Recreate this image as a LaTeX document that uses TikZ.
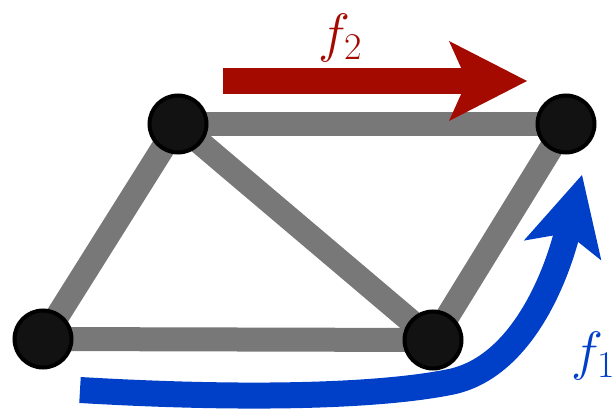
\RequirePackage{fix-cm}
\documentclass[tikz,border=0pt]{standalone}
\usepackage{tikz}
\usetikzlibrary{arrows.meta, backgrounds}
\definecolor{edgegray}{RGB}{120,120,120}
\definecolor{flowred}{RGB}{165,10,0}
\definecolor{flowblue}{RGB}{0,64,200}

\begin{document}
\begin{tikzpicture}[x=1pt, y=1pt,
    vertex/.style={circle, draw=black, line width=4pt, fill=black!93, minimum size=57pt, inner sep=0pt},
    edge/.style={draw=edgegray, line width=24pt},
    flow/.style={line width=26pt, -{Stealth[length=78pt, width=80pt, inset=18pt, line width=0pt]}},
    lbl/.style={font=\fontsize{54}{54}\selectfont}
  ]
    \useasboundingbox (0,0) rectangle (615,410);

    % Vertices
    \node[vertex] (bl) at (43,71) {};
    \node[vertex] (tl) at (178,286) {};
    \node[vertex] (tr) at (566,286) {};
    \node[vertex] (br) at (433,70) {};

    % Edges (behind the vertices)
    \begin{pgfonlayer}{background}
      \draw[edge] (bl.center) -- (tl.center);
      \draw[edge] (tl.center) -- (tr.center);
      \draw[edge] (tl.center) -- (br.center);
      \draw[edge] (bl.center) -- (br.center);
      \draw[edge] (br.center) -- (tr.center);
    \end{pgfonlayer}

    % Flow f2
    \coordinate (s2) at (223,329);
    \coordinate (e2) at (527,329);
    \draw[flow, flowred] (s2) -- (e2);
    \node[lbl, text=flowred] (ftwo) at (340,372) {$f_2$};

    % Flow f1
    \coordinate (s1) at (80,20);
    \coordinate (m1) at (450,28);
    \coordinate (e1) at (582,235);
    \draw[flow, flowblue] (s1) .. controls (250,10) and (380,14) .. (m1)
      .. controls (520,42) and (555,130) .. (e1);
    \node[lbl, text=flowblue] (fone) at (593,54) {$f_1$};

\end{tikzpicture}
\end{document}
